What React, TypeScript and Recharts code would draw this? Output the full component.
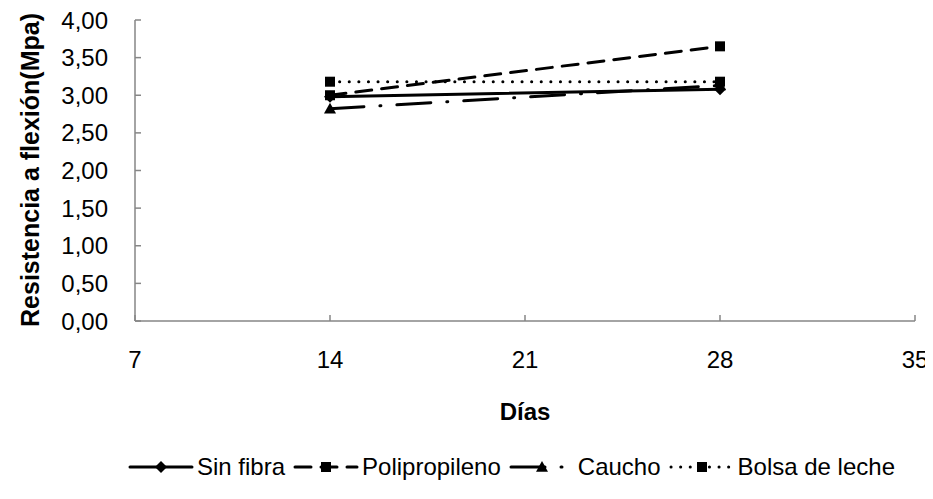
import { LineChart, Line, XAxis, YAxis, Legend } from "recharts";

const days = [14, 28];
const sinFibra = [2.98, 3.08];
const polipropileno = [3.0, 3.65];
const caucho = [2.82, 3.13];
const bolsaLeche = [3.18, 3.18];
const xTicks = [7, 14, 21, 28, 35];
const yTicks = [0, 0.5, 1, 1.5, 2, 2.5, 3, 3.5, 4];

const data = days.map((d, i) => ({
  dia: d,
  sinFibra: sinFibra[i],
  polipropileno: polipropileno[i],
  caucho: caucho[i],
  bolsaLeche: bolsaLeche[i],
}));

const FONT = "Liberation Sans, Arial, sans-serif";
const axisColor = "#868686";
const tickStyle = { fill: "#000", fontSize: 24, fontFamily: FONT };

type Shape = "diamond" | "square" | "triangle";

function Marker({ cx, cy, shape }: { cx: number; cy: number; shape: Shape }) {
  if (cx == null || cy == null) return null;
  if (shape === "diamond") {
    const r = 6;
    return <path d={`M${cx},${cy - r}L${cx + r},${cy}L${cx},${cy + r}L${cx - r},${cy}Z`} fill="#000" />;
  }
  if (shape === "triangle") {
    const r = 6;
    return <path d={`M${cx},${cy - r}L${cx + r},${cy + r * 0.8}L${cx - r},${cy + r * 0.8}Z`} fill="#000" />;
  }
  return <rect x={cx - 5} y={cy - 5} width={10} height={10} fill="#000" />;
}

const series = [
  { key: "sinFibra", name: "Sin fibra", dash: undefined as string | undefined, shape: "diamond" as Shape },
  { key: "polipropileno", name: "Polipropileno", dash: "16 10", shape: "square" as Shape },
  { key: "caucho", name: "Caucho", dash: "34 16 1 16", shape: "triangle" as Shape },
  { key: "bolsaLeche", name: "Bolsa de leche", dash: "0.1 9.5", shape: "square" as Shape },
];

const renderLegend = () => (
  <div
    style={{
      display: "flex",
      justifyContent: "flex-start",
      alignItems: "center",
      fontFamily: FONT,
      fontSize: 24,
      color: "#000",
      paddingTop: 12,
      paddingLeft: 128,
    }}
  >
    {series.map((s) => (
      <div key={s.key} style={{ display: "flex", alignItems: "center", marginRight: 8 }}>
        <svg width={66} height={20}>
          <line x1={2} y1={10} x2={64} y2={10} stroke="#000" strokeWidth={3} strokeDasharray={s.dash} strokeLinecap="round" />
          <Marker cx={33} cy={10} shape={s.shape} />
        </svg>
        <span style={{ marginLeft: 3 }}>{s.name}</span>
      </div>
    ))}
  </div>
);

export default function App() {
  return (
    <div style={{ margin: -8 }}>
      <LineChart width={933} height={499} data={data} margin={{ top: 20, right: 18, left: 0, bottom: 0 }} style={{ background: "#fff" }}>
        <XAxis
          dataKey="dia"
          type="number"
          domain={[7, 35]}
          ticks={xTicks}
          height={120}
          stroke={axisColor}
          strokeWidth={1.5}
          tickSize={-6}
          tickMargin={36}
          tick={tickStyle}
          label={{
            content: () => (
              <text x={525} y={420} textAnchor="middle" fontFamily={FONT} fontSize={24} fontWeight="bold" fill="#000">
                Días
              </text>
            ),
          }}
        />
        <YAxis
          type="number"
          domain={[0, 4]}
          ticks={yTicks}
          width={135}
          stroke={axisColor}
          strokeWidth={1.5}
          tickSize={-6}
          tickMargin={33}
          tick={tickStyle}
          tickFormatter={(v: number) => v.toFixed(2).replace(".", ",")}
          label={{
            content: () => (
              <text
                x={39}
                y={170}
                transform="rotate(-90 39 170)"
                textAnchor="middle"
                fontFamily={FONT}
                fontSize={25}
                fontWeight="bold"
                fill="#000"
              >
                Resistencia a flexión(Mpa)
              </text>
            ),
          }}
        />
        <Legend verticalAlign="bottom" height={58} content={renderLegend} />
        {series.map((s) => (
          <Line
            key={s.key}
            dataKey={s.key}
            name={s.name}
            stroke="#000"
            strokeWidth={3}
            strokeDasharray={s.dash}
            strokeLinecap="round"
            dot={(p: any) => <Marker key={`${s.key}-${p.index}`} cx={p.cx} cy={p.cy} shape={s.shape} />}
            activeDot={false}
            isAnimationActive={false}
          />
        ))}
      </LineChart>
    </div>
  );
}
